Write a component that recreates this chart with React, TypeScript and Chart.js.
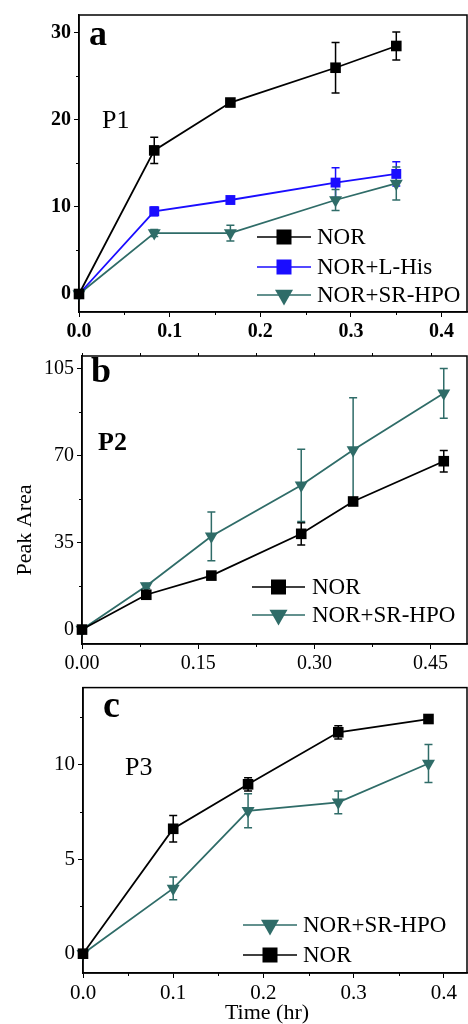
import React, { useEffect, useRef } from "react";
import { Chart, registerables } from "chart.js";
Chart.register(...registerables);

const SERIF = "'Liberation Serif', 'Times New Roman', serif";

// ---------- Data ----------
const seriesLabels = ["NOR", "NOR+L-His", "NOR+SR-HPO"];
const xTitle = "Time (hr)";
const yTitle = "Peak Area";

// Panel a (P1)
const timeA = [0, 0.083, 0.167, 0.283, 0.35];
const norA = [0, 16.5, 22.0, 26.0, 28.5];
const norAErr = [0, 1.5, 0.3, 2.9, 1.6];
const hisA = [0, 9.5, 10.8, 12.8, 13.8];
const hisAErr = [0, 0.5, 0.3, 1.7, 1.4];
const srA = [0, 7.0, 7.0, 10.8, 12.7];
const srAErr = [0, 0.4, 0.9, 1.2, 1.9];
const xTicksA = [0, 0.1, 0.2, 0.3, 0.4];
const xMinorA = [0.05, 0.15, 0.25, 0.35];
const yTicksA = [0, 10, 20, 30];
const yMinorA = [5, 15, 25];

// Panel b (P2)
const timeB = [0, 0.083, 0.167, 0.283, 0.35, 0.467];
const norB = [0, 14.0, 21.7, 38.5, 51.5, 67.7];
const norBErr = [0, 0.8, 0.8, 4.5, 1.2, 4.3];
const srB = [0, 17.5, 37.5, 58.0, 72.2, 95.0];
const srBErr = [0, 1.0, 9.8, 14.5, 21.0, 10.0];
const xTicksB = [0, 0.15, 0.3, 0.45];
const xMinorB = [0.075, 0.225, 0.375];
const yTicksB = [0, 35, 70, 105];
const yMinorB = [17.5, 52.5, 87.5];

// Panel c (P3)
const timeC = [0, 0.1, 0.183, 0.283, 0.383];
const norC = [0, 6.6, 8.95, 11.7, 12.4];
const norCErr = [0, 0.7, 0.35, 0.35, 0.1];
const srC = [0, 3.45, 7.55, 8.0, 10.05];
const srCErr = [0, 0.6, 0.9, 0.6, 1.0];
const xTicksC = [0, 0.1, 0.2, 0.3, 0.4];
const xMinorC = [0.05, 0.15, 0.25, 0.35];
const yTicksC = [0, 5, 10];
const yMinorC = [2.5, 7.5, 12.5];

// ---------- Styles ----------
const BLACK = "#000000";
const BLUE = "#1a0dff";
const TEAL = "#2f6c68";

type Ser = { label: string; xs: number[]; ys: number[]; errs: number[]; color: string; marker: "rect" | "tri"; radius: number };
type TextItem = { text: string; x: number; y: number; font: string; rotate?: boolean; align?: CanvasTextAlign };
type PanelCfg = {
  top: number;
  height: number;
  area: { left: number; top: number; right: number; bottom: number };
  xMin: number; xMax: number; yMin: number; yMax: number;
  xTicks: number[]; xMinor: number[]; yTicks: number[]; yMinor: number[];
  xDec: number;
  tickFont: { family: string; size: number; weight: any };
  series: Ser[];
  legendOrder: number[];
  legend: { x1: number; x2: number; textX: number; rows: number[] };
  texts: TextItem[];
  topTicks: boolean;
};

const panels: PanelCfg[] = [
  {
    top: 0, height: 341,
    area: { left: 79, top: 14, right: 467, bottom: 312 },
    xMin: 0, xMax: 0.428, yMin: -2.07, yMax: 32.06,
    xTicks: xTicksA, xMinor: xMinorA, yTicks: yTicksA, yMinor: yMinorA, xDec: 1,
    tickFont: { family: SERIF, size: 20, weight: "bold" },
    series: [
      { label: seriesLabels[0], xs: timeA, ys: norA, errs: norAErr, color: BLACK, marker: "rect", radius: 7.5 },
      { label: seriesLabels[1], xs: timeA, ys: hisA, errs: hisAErr, color: BLUE, marker: "rect", radius: 7 },
      { label: seriesLabels[2], xs: timeA, ys: srA, errs: srAErr, color: TEAL, marker: "tri", radius: 7.5 },
    ],
    legendOrder: [0, 1, 2],
    legend: { x1: 257, x2: 311, textX: 317, rows: [237, 267, 295] },
    texts: [
      { text: "a", x: 89, y: 45, font: `bold 36px ${SERIF}` },
      { text: "P1", x: 102, y: 128, font: `26px ${SERIF}` },
    ],
    topTicks: false,
  },
  {
    top: 341, height: 331,
    area: { left: 82, top: 346, right: 467, bottom: 644 },
    xMin: 0, xMax: 0.497, yMin: -5.8, yMax: 110.0,
    xTicks: xTicksB, xMinor: xMinorB, yTicks: yTicksB, yMinor: yMinorB, xDec: 2,
    tickFont: { family: SERIF, size: 20, weight: "normal" },
    series: [
      { label: seriesLabels[0], xs: timeB, ys: norB, errs: norBErr, color: BLACK, marker: "rect", radius: 7.5 },
      { label: seriesLabels[2], xs: timeB, ys: srB, errs: srBErr, color: TEAL, marker: "tri", radius: 7.5 },
    ],
    legendOrder: [0, 1],
    legend: { x1: 252, x2: 305, textX: 312, rows: [587, 615] },
    texts: [
      { text: "b", x: 91, y: 382, font: `bold 36px ${SERIF}` },
      { text: "P2", x: 98, y: 450, font: `bold 26px ${SERIF}` },
      { text: yTitle, x: 25, y: 530, font: `22px ${SERIF}`, rotate: true, align: "center" },
    ],
    topTicks: true,
  },
  {
    top: 672, height: 352,
    area: { left: 83, top: 676, right: 467, bottom: 973 },
    xMin: 0, xMax: 0.4257, yMin: -1.02, yMax: 14.06,
    xTicks: xTicksC, xMinor: xMinorC, yTicks: yTicksC, yMinor: yMinorC, xDec: 1,
    tickFont: { family: SERIF, size: 21, weight: "normal" },
    series: [
      { label: seriesLabels[0], xs: timeC, ys: norC, errs: norCErr, color: BLACK, marker: "rect", radius: 7.5 },
      { label: seriesLabels[2], xs: timeC, ys: srC, errs: srCErr, color: TEAL, marker: "tri", radius: 7.5 },
    ],
    legendOrder: [1, 0],
    legend: { x1: 243, x2: 297, textX: 303, rows: [925, 955] },
    texts: [
      { text: "c", x: 103, y: 717, font: `bold 38px ${SERIF}` },
      { text: "P3", x: 125, y: 775, font: `26px ${SERIF}` },
      { text: xTitle, x: 267, y: 1019, font: `22px ${SERIF}`, align: "center" },
    ],
    topTicks: false,
  },
];

function drawMarker(ctx: CanvasRenderingContext2D, kind: "rect" | "tri", x: number, y: number, size: number, color: string) {
  ctx.fillStyle = color;
  if (kind === "rect") {
    ctx.fillRect(x - size / 2, y - size / 2, size, size);
  } else {
    const w = size;
    const h = size * 0.87;
    ctx.beginPath();
    ctx.moveTo(x - w / 2, y - h / 3);
    ctx.lineTo(x + w / 2, y - h / 3);
    ctx.lineTo(x, y + (2 * h) / 3);
    ctx.closePath();
    ctx.fill();
  }
}

function Panel({ cfg }: { cfg: PanelCfg }) {
  const ref = useRef<HTMLCanvasElement | null>(null);
  useEffect(() => {
    const canvas = ref.current;
    if (!canvas) return;
    const T = cfg.top;
    const a = cfg.area;

    const errPlugin = {
      id: "errbars",
      beforeDatasetsDraw(chart: any) {
        const ctx = chart.ctx;
        const xs = chart.scales.x;
        const ys = chart.scales.y;
        chart.data.datasets.forEach((ds: any) => {
          ctx.save();
          ctx.strokeStyle = ds.borderColor;
          ctx.lineWidth = 1.5;
          ds.data.forEach((p: any, j: number) => {
            const e = ds.errs[j];
            if (!e) return;
            const px = xs.getPixelForValue(p.x);
            const yt = ys.getPixelForValue(p.y + e);
            const yb = ys.getPixelForValue(p.y - e);
            ctx.beginPath();
            ctx.moveTo(px, yt);
            ctx.lineTo(px, yb);
            ctx.moveTo(px - 4, yt);
            ctx.lineTo(px + 4, yt);
            ctx.moveTo(px - 4, yb);
            ctx.lineTo(px + 4, yb);
            ctx.stroke();
          });
          ctx.restore();
        });
      },
    };

    const framePlugin = {
      id: "frame",
      afterDraw(chart: any) {
        const ctx = chart.ctx;
        const ca = chart.chartArea;
        const xs = chart.scales.x;
        const ys = chart.scales.y;
        ctx.save();
        ctx.strokeStyle = "#000";
        ctx.lineWidth = 1.5;
        ctx.strokeRect(ca.left, ca.top, ca.right - ca.left, ca.bottom - ca.top);
        ctx.lineWidth = 1;
        ctx.beginPath();
        cfg.xMinor.forEach((v) => {
          const px = Math.round(xs.getPixelForValue(v)) + 0.5;
          ctx.moveTo(px, ca.bottom);
          ctx.lineTo(px, ca.bottom + 3);
        });
        cfg.yMinor.forEach((v) => {
          const py = Math.round(ys.getPixelForValue(v)) + 0.5;
          ctx.moveTo(ca.left, py);
          ctx.lineTo(ca.left - 3, py);
        });
        if (cfg.topTicks) {
          [...cfg.xTicks, ...cfg.xMinor].forEach((v) => {
            const px = Math.round(xs.getPixelForValue(v)) + 0.5;
            ctx.moveTo(px, ca.top);
            ctx.lineTo(px, ca.top - 3);
          });
        }
        ctx.stroke();

        // legend
        const lg = cfg.legend;
        cfg.legendOrder.forEach((si, k) => {
          const s = cfg.series[si];
          const y = lg.rows[k] - T;
          ctx.strokeStyle = s.color;
          ctx.lineWidth = 1.5;
          ctx.beginPath();
          ctx.moveTo(lg.x1, y);
          ctx.lineTo(lg.x2, y);
          ctx.stroke();
          const cx = (lg.x1 + lg.x2) / 2;
          if (s.marker === "rect") drawMarker(ctx, "rect", cx, y, 15, s.color);
          else drawMarker(ctx, "tri", cx, y, 18, s.color);
          ctx.fillStyle = "#000";
          ctx.font = `23px ${SERIF}`;
          ctx.textAlign = "left";
          ctx.textBaseline = "middle";
          ctx.fillText(s.label, lg.textX, y + 1);
        });

        // texts
        cfg.texts.forEach((t) => {
          ctx.fillStyle = "#000";
          ctx.font = t.font;
          ctx.textAlign = t.align || "left";
          if (t.rotate) {
            ctx.save();
            ctx.translate(t.x, t.y - T);
            ctx.rotate(-Math.PI / 2);
            ctx.textBaseline = "middle";
            ctx.fillText(t.text, 0, 0);
            ctx.restore();
          } else {
            ctx.textBaseline = "alphabetic";
            ctx.fillText(t.text, t.x, t.y - T);
          }
        });
        ctx.restore();
      },
    };

    const chart = new Chart(canvas, {
      type: "line",
      data: {
        datasets: cfg.series.map((s) => ({
          label: s.label,
          data: s.xs.map((x, i) => ({ x, y: s.ys[i] })),
          errs: s.errs,
          borderColor: s.color,
          backgroundColor: s.color,
          borderWidth: 1.8,
          pointStyle: s.marker === "rect" ? "rect" : "triangle",
          pointRotation: s.marker === "rect" ? 0 : 180,
          pointRadius: s.radius,
          pointBorderWidth: 0,
          pointBackgroundColor: s.color,
          tension: 0,
          clip: false,
        })) as any,
      },
      options: {
        animation: false,
        responsive: false,
        maintainAspectRatio: false,
        devicePixelRatio: 1,
        events: [],
        layout: { autoPadding: false, padding: { left: 0, top: a.top - T, right: 468 - a.right, bottom: 0 } },
        plugins: { legend: { display: false }, tooltip: { enabled: false } },
        scales: {
          x: {
            type: "linear",
            min: cfg.xMin,
            max: cfg.xMax,
            afterBuildTicks: (s: any) => {
              s.ticks = cfg.xTicks.map((v) => ({ value: v }));
            },
            afterFit: (s: any) => {
              s.height = T + cfg.height - a.bottom;
            },
            ticks: {
              callback: (v: any) => Number(v).toFixed(cfg.xDec),
              font: cfg.tickFont,
              color: "#000",
              padding: 3,
              maxRotation: 0,
              autoSkip: false,
            },
            grid: { drawOnChartArea: false, drawTicks: true, tickLength: 5, color: "#000", lineWidth: 1 },
            border: { display: true, color: "#000", width: 1.5 },
          },
          y: {
            type: "linear",
            min: cfg.yMin,
            max: cfg.yMax,
            afterBuildTicks: (s: any) => {
              s.ticks = cfg.yTicks.map((v) => ({ value: v }));
            },
            afterFit: (s: any) => {
              s.width = a.left;
            },
            ticks: {
              callback: (v: any) => String(v),
              font: cfg.tickFont,
              color: "#000",
              padding: 3,
              autoSkip: false,
            },
            grid: { drawOnChartArea: false, drawTicks: true, tickLength: 5, color: "#000", lineWidth: 1 },
            border: { display: true, color: "#000", width: 1.5 },
          },
        },
      } as any,
      plugins: [errPlugin, framePlugin],
    });
    return () => chart.destroy();
  }, [cfg]);

  return (
    <canvas
      ref={ref}
      width={468}
      height={cfg.height}
      style={{ position: "absolute", left: 0, top: cfg.top, width: 468, height: cfg.height, display: "block" }}
    />
  );
}

export default function App() {
  return (
    <div style={{ position: "absolute", left: 0, top: 0, width: 468, height: 1024, background: "#fff", overflow: "hidden" }}>
      {panels.map((p, i) => (
        <Panel key={i} cfg={p} />
      ))}
    </div>
  );
}
